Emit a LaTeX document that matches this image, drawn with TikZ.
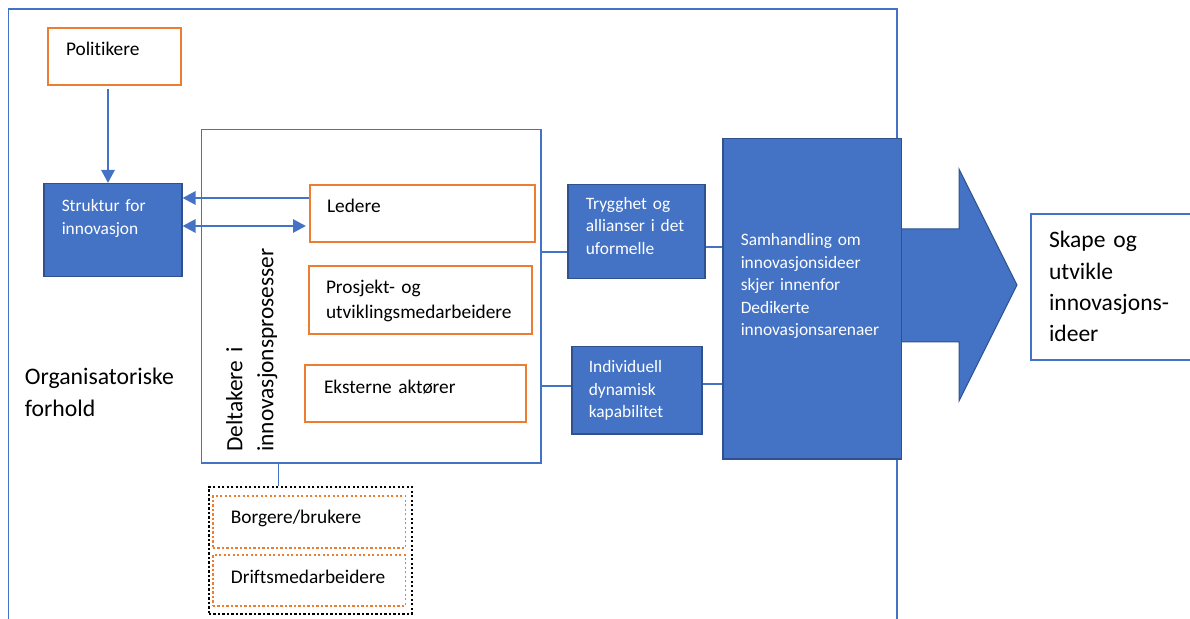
\documentclass[tikz,border=0pt]{standalone}
\usepackage{fontspec}
\setmainfont{Carlito}[Ligatures=NoCommon]
\usetikzlibrary{positioning,arrows.meta}

\definecolor{msblue}{HTML}{4472C4}
\definecolor{msdark}{HTML}{2F528F}
\definecolor{msorange}{HTML}{ED7D31}

\begin{document}
\begin{tikzpicture}[x=0.2mm, y=-0.2mm,
        every node/.style={anchor=north west, inner ysep=0pt, align=left},
        actor/.style={rectangle, draw=msorange, line width=0.4mm, inner xsep=3.6mm, font=\fontsize{11}{14.2}\selectfont},
        extra/.style={rectangle, draw=msorange, line width=0.35mm, dash pattern=on 0.45mm off 0.45mm, inner xsep=3.6mm, font=\fontsize{11}{14.2}\selectfont},
        factor/.style={rectangle, draw=msdark, line width=0.3mm, fill=msblue, text=white, inner xsep=3.6mm, font=\fontsize{9.9}{12.8}\selectfont},
        outline/.style={rectangle, draw=msblue, line width=0.3mm, inner sep=0pt},
        big/.style={font=\fontsize{13.4}{17.8}\selectfont},
        link/.style={draw=msblue, line width=0.55mm},
        arrow/.style={link, -{Triangle[length=2.6mm,width=2.6mm]}}
    ]
    \useasboundingbox (0,0) rectangle (1190,619);
    \clip (0,0) rectangle (1190,619);

    % Frames
    \node[outline, minimum width=177.7mm, minimum height=128mm] (org) at (7.5,8.5) {};
    \node[big, inner sep=0pt, text width=40mm, text height=3.6mm, text depth=8mm, font=\fontsize{13.5}{18.1}\selectfont] (orgtext) at (24.5,366) {Organisatoriske\\forhold};
    \node[outline, minimum width=67.9mm, minimum height=66.6mm] (inner) at (200.5,129) {};
    \node[big, rotate=90, inner sep=0pt, text width=44mm, text height=3.6mm, text depth=8mm, font=\fontsize{13.3}{17.6}\selectfont] (deltakere) at (224,452) {Deltakere i\\innovasjonsprosesser};

    % Actors
    \node[actor, text width=19.4mm, text height=5.6mm, text depth=5.8mm] (politikere) at (47,27) {Politikere};
    \node[actor, inner xsep=3.4mm, text width=38.2mm, text height=5.6mm, text depth=5.8mm] (ledere) at (309,184) {Ledere};
    \node[actor, inner xsep=3.4mm, text width=37.8mm, text height=5.6mm, text depth=8mm] (prosjekt) at (308,265) {Prosjekt- og\\utviklingsmedarbeidere};
    \node[actor, inner xsep=3.8mm, text width=36.6mm, text height=5.6mm, text depth=5.8mm] (eksterne) at (304,364) {Eksterne aktører};

    % Dotted group
    \node[rectangle, draw=black, line width=0.35mm, dash pattern=on 0.45mm off 0.45mm, inner sep=0pt, minimum width=40.6mm, minimum height=25.4mm] (dotbox) at (208,486) {};
    \node[extra, text width=31.3mm, text height=5.6mm, text depth=4.8mm] (borgere) at (212,495) {Borgere/brukere};
    \node[extra, text width=31.3mm, text height=5.8mm, text depth=4.4mm] (drifts) at (212,554) {Driftsmedarbeidere};

    % Factors
    \node[factor, text width=20.4mm, text height=5.6mm, text depth=13mm] (struktur) at (43,183) {Struktur for\\innovasjon};
    \node[factor, text width=20.2mm, text height=4.9mm, text depth=13.9mm] (trygghet) at (567,184) {Trygghet og\\allianser i det\\uformelle};
    \node[factor, inner xsep=3.4mm, text width=19.2mm, text height=5.2mm, text depth=12.2mm] (individuell) at (571,346) {Individuell\\dynamisk\\kapabilitet};

    % Big arrow
    \fill[msblue, draw=msdark, line width=0.2mm] (900,229) -- (959,229) -- (959,169) -- (1017,285) -- (959,401) -- (959,342) -- (900,342) -- cycle;
    \node[factor, text width=28.5mm, text height=21.4mm, text depth=42.6mm] (samhandling) at (722,138) {Samhandling om\\innovasjonsideer\\skjer innenfor\\Dedikerte\\innovasjonsarenaer};
    \node[outline, big, line width=0.4mm, inner xsep=3.6mm, text width=40mm, text height=6.8mm, text depth=22.4mm] (skape) at (1030,213) {Skape og\\utvikle\\innovasjons-\\ideer};

    % Relationships
    \draw[arrow, shorten <=0.6mm] (politikere.south -| 108,0) -- (struktur.north -| 108,0);
    \draw[arrow] (ledere.west |- 0,198) -- (struktur.east |- 0,198);
    \draw[link, {Triangle[length=2.6mm,width=2.6mm]}-{Triangle[length=2.6mm,width=2.6mm]}, shorten >=0.6mm] (struktur.east |- 0,226) -- (ledere.west |- 0,226);
    \draw[link] (inner.east |- 0,252) -- (trygghet.west |- 0,252);
    \draw[link] (inner.east |- 0,386) -- (individuell.west |- 0,386);
    \draw[link] (trygghet.east |- 0,247) -- (samhandling.west |- 0,247);
    \draw[link] (individuell.east |- 0,384) -- (samhandling.west |- 0,384);
    \draw[msblue, line width=0.2mm] (inner.south -| 278,0) -- (dotbox.north -| 278,0);

\end{tikzpicture}
\end{document}
